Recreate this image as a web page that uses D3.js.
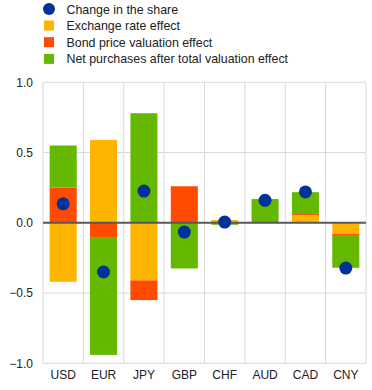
<!DOCTYPE html>
<html><head><meta charset="utf-8">
<script src="https://cdn.jsdelivr.net/npm/d3@7"></script>
<style>body{margin:0;background:#fff}svg{display:block;font-family:"Liberation Sans",Arial,sans-serif}</style>
</head><body><svg id="c" width="372" height="390"></svg>
<script>
const categories = ["USD","EUR","JPY","GBP","CHF","AUD","CAD","CNY"];
const exchangeRate = [-0.42, 0.59, -0.41, 0, 0.02, 0, 0.055, -0.08];
const bondPrice = [0.25, -0.107, -0.14, 0.26, 0, 0, 0.007, -0.013];
const netPurchases = [0.30, -0.833, 0.78, -0.325, -0.014, 0.169, 0.156, -0.227];
const shareChange = [0.135, -0.35, 0.226, -0.066, 0.005, 0.16, 0.22, -0.322];
const yTicks = [1.0, 0.5, 0.0, -0.5, -1.0];
const seriesNames = ["Exchange rate effect","Bond price valuation effect","Net purchases after total valuation effect"];
const seriesColors = ["#FFB400","#FF4B00","#65B800"];
const dotColor = "#003299";

const svg = d3.select("#c");
const x = d3.scaleBand().domain(categories).range([43, 366]).paddingInner(0.33).paddingOuter(0.165);
const y = d3.scaleLinear().domain([-1, 1]).range([363.3, 82.3]);

// grid
const gridX = d3.range(categories.length + 1).map(i => 43 + i * (323 / categories.length));
svg.append("g").selectAll("line").data(yTicks).join("line")
  .attr("x1", 43).attr("x2", 366).attr("y1", d => y(d)).attr("y2", d => y(d))
  .attr("stroke", "#d9d9d9").attr("stroke-width", 1);
svg.append("g").selectAll("line").data(gridX).join("line")
  .attr("x1", d => d).attr("x2", d => d).attr("y1", y(1)).attr("y2", y(-1))
  .attr("stroke", "#d9d9d9").attr("stroke-width", 1);

// stacked bars
const rows = categories.map((c, i) => ({cat: c, s0: exchangeRate[i], s1: bondPrice[i], s2: netPurchases[i]}));
const stack = d3.stack().keys(["s0","s1","s2"]).offset(d3.stackOffsetDiverging);
const layers = stack(rows);
const g = svg.append("g");
layers.forEach((layer, li) => {
  g.append("g").attr("fill", seriesColors[li]).selectAll("rect").data(layer).join("rect")
    .attr("x", d => x(d.data.cat)).attr("width", x.bandwidth())
    .attr("y", d => y(Math.max(d[0], d[1])))
    .attr("height", d => Math.abs(y(d[0]) - y(d[1])));
});

// zero line
svg.append("line").attr("x1", 43).attr("x2", 366).attr("y1", y(0)).attr("y2", y(0))
  .attr("stroke", "#595959").attr("stroke-width", 2);

// dots
svg.append("g").selectAll("circle").data(shareChange).join("circle")
  .attr("cx", (d, i) => x(categories[i]) + x.bandwidth() / 2).attr("cy", d => y(d))
  .attr("r", 6.5).attr("fill", dotColor);

// y axis labels
const yAxis = d3.axisLeft(y).tickValues(yTicks).tickFormat(d3.format(".1f")).tickSize(0).tickPadding(0);
const ya = svg.append("g").attr("transform", "translate(33,0)").call(yAxis);
ya.select(".domain").remove();
ya.selectAll("text").attr("font-size", 12).attr("fill", "#222").attr("font-family", "Liberation Sans, Arial, sans-serif");

// x axis labels
const xAxis = d3.axisBottom(x).tickSize(0).tickPadding(0);
const xa = svg.append("g").attr("transform", "translate(0,370)").call(xAxis);
xa.select(".domain").remove();
xa.selectAll("text").attr("font-size", 12).attr("fill", "#222").attr("font-family", "Liberation Sans, Arial, sans-serif");

// legend
const legend = svg.append("g");
legend.append("circle").attr("cx", 49).attr("cy", 9).attr("r", 6).attr("fill", dotColor);
legend.append("text").attr("x", 66.5).attr("y", 13.5).text("Change in the share")
  .attr("font-size", 12.4).attr("fill", "#222");
seriesNames.forEach((n, i) => {
  const cy = 25.5 + i * 16.7;
  legend.append("rect").attr("x", 44).attr("y", cy - 5).attr("width", 10).attr("height", 10).attr("fill", seriesColors[i]);
  legend.append("text").attr("x", 66.5).attr("y", cy + 4.5).text(n).attr("font-size", 12.4).attr("fill", "#222");
});
</script></body></html>
